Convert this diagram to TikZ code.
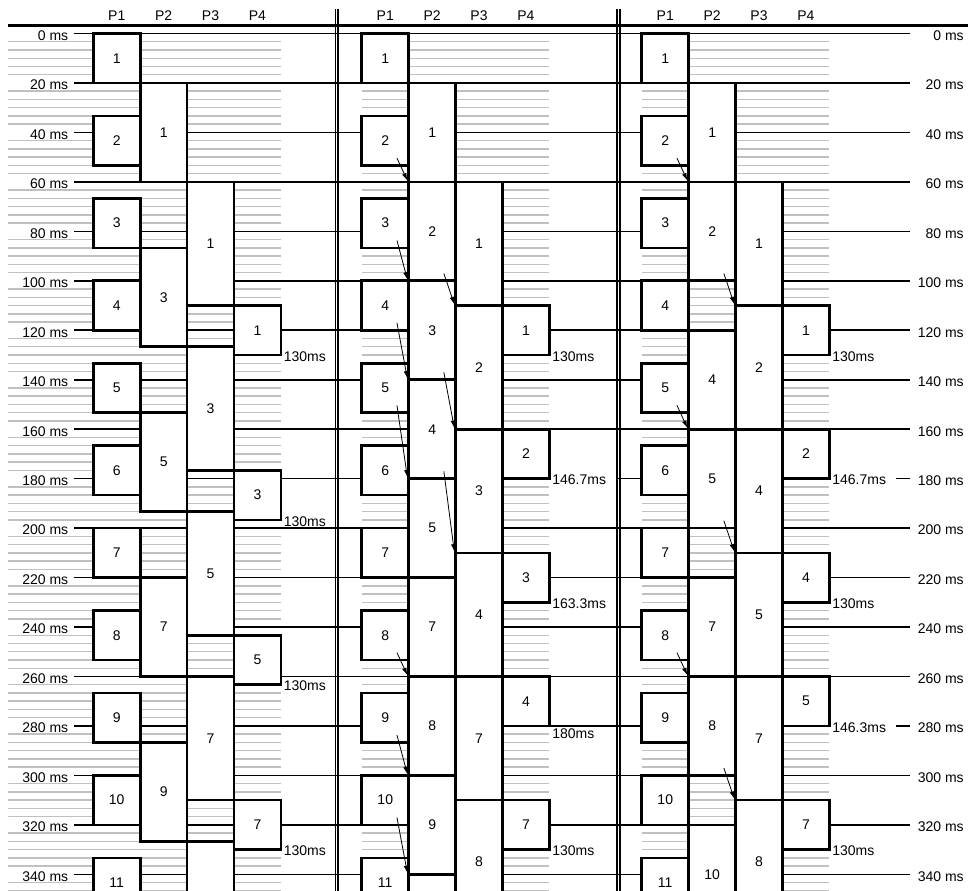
\documentclass[tikz,border=0pt]{standalone}
\usepackage{fontspec}
\setmainfont{Liberation Sans}
\usepackage{tikz}
\usetikzlibrary{arrows.meta}
\definecolor{gridgray}{RGB}{192,192,192}
\tikzset{
  stage/.style={draw,fill=white,line width=2pt,inner sep=0pt,
    minimum width=35.175pt,font=\fontsize{10.5}{12}\selectfont},
  latency/.style={fill=white,inner sep=1pt,text width=47pt,align=left,
    font=\fontsize{10.5}{12}\selectfont},
  mslabel/.style={font=\fontsize{10.5}{12}\selectfont,inner sep=0pt,anchor=east,yshift=-1.5pt},
  hdr/.style={font=\fontsize{10.5}{12}\selectfont,inner sep=0pt},
  grid line/.style={gridgray,line width=1.1pt},
  time line/.style={line width=1.2pt},
  sep line/.style={line width=1.2pt},
  flow/.style={-{Latex[length=5.5pt,width=3.5pt]},line width=0.6pt},
}
%% one stage box: name, left x, start ms, end ms, frame
\newcommand{\stagebox}[5]{\node[stage,minimum height={((#4)-(#3))*1.85475pt}]
  (#1) at ({#2+23.45},{((#3)+(#4))/2}) {#5};}

\begin{document}
\begin{tikzpicture}[x=0.75pt,y=-1.85475pt]
\def\cw{46.9}
\def\ax{93.3}
\def\bx{361.8}
\def\cx{641.8}
\useasboundingbox (0,-13.546) rectangle (968,346.34);
\clip (0,-13.546) rectangle (968,346.34);
%% grey sub-grid
\foreach \tm in {0,20,...,340}
  \foreach \j in {1,...,5}{
    \draw[grid line] (8,\tm+\j*10/3) -- (\ax+4*\cw,\tm+\j*10/3);
    \draw[grid line] (\bx,\tm+\j*10/3) -- (\bx+4*\cw,\tm+\j*10/3);
    \draw[grid line] (\cx,\tm+\j*10/3) -- (\cx+4*\cw,\tm+\j*10/3);
  }
%% 20 ms lines
\foreach \tm in {0,20,...,340}
  \draw[time line] (74,\tm) -- (910,\tm);
%% P1: same in all three
\foreach \p/\x in {a/\ax,b/\bx,c/\cx}
  \foreach \k in {1,...,11}
    {\stagebox{\p1f\k}{\x}{(\k-1)*100/3}{(\k-1)*100/3+20}{\k}}
%% Left: P2..P4
\stagebox{a2f1}{\ax+\cw}{20}{60}{1}
\stagebox{a2f3}{\ax+\cw}{86.667}{126.667}{3}
\stagebox{a2f5}{\ax+\cw}{153.333}{193.333}{5}
\stagebox{a2f7}{\ax+\cw}{220}{260}{7}
\stagebox{a2f9}{\ax+\cw}{286.667}{326.667}{9}
\stagebox{a3f1}{\ax+2*\cw}{60}{110}{1}
\stagebox{a3f3}{\ax+2*\cw}{126.667}{176.667}{3}
\stagebox{a3f5}{\ax+2*\cw}{193.333}{243.333}{5}
\stagebox{a3f7}{\ax+2*\cw}{260}{310}{7}
\stagebox{a3f9}{\ax+2*\cw}{326.667}{376.667}{}
\stagebox{a4f1}{\ax+3*\cw}{110}{130}{1}
\stagebox{a4f3}{\ax+3*\cw}{176.667}{196.667}{3}
\stagebox{a4f5}{\ax+3*\cw}{243.333}{263.333}{5}
\stagebox{a4f7}{\ax+3*\cw}{310}{330}{7}
%% Middle: P2..P4
\stagebox{b2f1}{\bx+\cw}{20}{60}{1}
\stagebox{b2f2}{\bx+\cw}{60}{100}{2}
\stagebox{b2f3}{\bx+\cw}{100}{140}{3}
\stagebox{b2f4}{\bx+\cw}{140}{180}{4}
\stagebox{b2f5}{\bx+\cw}{180}{220}{5}
\stagebox{b2f7}{\bx+\cw}{220}{260}{7}
\stagebox{b2f8}{\bx+\cw}{260}{300}{8}
\stagebox{b2f9}{\bx+\cw}{300}{340}{9}
\stagebox{b2f10}{\bx+\cw}{340}{380}{}
\stagebox{b3f1}{\bx+2*\cw}{60}{110}{1}
\stagebox{b3f2}{\bx+2*\cw}{110}{160}{2}
\stagebox{b3f3}{\bx+2*\cw}{160}{210}{3}
\stagebox{b3f4}{\bx+2*\cw}{210}{260}{4}
\stagebox{b3f7}{\bx+2*\cw}{260}{310}{7}
\stagebox{b3f8}{\bx+2*\cw}{310}{360}{8}
\stagebox{b4f1}{\bx+3*\cw}{110}{130}{1}
\stagebox{b4f2}{\bx+3*\cw}{160}{180}{2}
\stagebox{b4f3}{\bx+3*\cw}{210}{230}{3}
\stagebox{b4f4}{\bx+3*\cw}{260}{280}{4}
\stagebox{b4f7}{\bx+3*\cw}{310}{330}{7}
%% Right: P2..P4
\stagebox{c2f1}{\cx+\cw}{20}{60}{1}
\stagebox{c2f2}{\cx+\cw}{60}{100}{2}
\stagebox{c2f4}{\cx+\cw}{120}{160}{4}
\stagebox{c2f5}{\cx+\cw}{160}{200}{5}
\stagebox{c2f7}{\cx+\cw}{220}{260}{7}
\stagebox{c2f8}{\cx+\cw}{260}{300}{8}
\stagebox{c2f10}{\cx+\cw}{320}{360}{10}
\stagebox{c3f1}{\cx+2*\cw}{60}{110}{1}
\stagebox{c3f2}{\cx+2*\cw}{110}{160}{2}
\stagebox{c3f4}{\cx+2*\cw}{160}{210}{4}
\stagebox{c3f5}{\cx+2*\cw}{210}{260}{5}
\stagebox{c3f7}{\cx+2*\cw}{260}{310}{7}
\stagebox{c3f8}{\cx+2*\cw}{310}{360}{8}
\stagebox{c4f1}{\cx+3*\cw}{110}{130}{1}
\stagebox{c4f2}{\cx+3*\cw}{160}{180}{2}
\stagebox{c4f4}{\cx+3*\cw}{210}{230}{4}
\stagebox{c4f5}{\cx+3*\cw}{260}{280}{5}
\stagebox{c4f7}{\cx+3*\cw}{310}{330}{7}
%% latencies
\node[latency,anchor=west] (a4f1l) at (a4f1.south east) {130ms};
\node[latency,anchor=west] (a4f3l) at (a4f3.south east) {130ms};
\node[latency,anchor=west] (a4f5l) at (a4f5.south east) {130ms};
\node[latency,anchor=west] (a4f7l) at (a4f7.south east) {130ms};
\node[latency,anchor=west] (b4f1l) at (b4f1.south east) {130ms};
\node[latency,anchor=west] (b4f2l) at (b4f2.south east) {146.7ms};
\node[latency,anchor=west] (b4f3l) at (b4f3.south east) {163.3ms};
\node[latency,anchor=north west] (b4f4l) at (b4f4.south east) {180ms};
\node[latency,anchor=west] (b4f7l) at (b4f7.south east) {130ms};
\node[latency,anchor=west] (c4f1l) at (c4f1.south east) {130ms};
\node[latency,anchor=west] (c4f2l) at (c4f2.south east) {146.7ms};
\node[latency,anchor=west] (c4f4l) at (c4f4.south east) {130ms};
\node[latency,anchor=west] (c4f5l) at (c4f5.south east) {146.3ms};
\node[latency,anchor=west] (c4f7l) at (c4f7.south east) {130ms};
%% waiting frames
\draw[flow] ([shift={(36.5,-3.5)}]b1f2.south west) -- (b2f2.north west);
\draw[flow] ([shift={(36.5,-3.5)}]b1f3.south west) -- (b2f3.north west);
\draw[flow] ([shift={(36.5,-3.5)}]b1f4.south west) -- (b2f4.north west);
\draw[flow] ([shift={(36.5,-3.5)}]b1f5.south west) -- (b2f5.north west);
\draw[flow] ([shift={(36.5,-3.5)}]b1f8.south west) -- (b2f8.north west);
\draw[flow] ([shift={(36.5,-3.5)}]b1f9.south west) -- (b2f9.north west);
\draw[flow] ([shift={(36.5,-3.5)}]b1f10.south west) -- (b2f10.north west);
\draw[flow] ([shift={(36.5,-3.5)}]b2f2.south west) -- (b3f2.north west);
\draw[flow] ([shift={(36.5,-3.5)}]b2f3.south west) -- (b3f3.north west);
\draw[flow] ([shift={(36.5,-3.5)}]b2f4.south west) -- (b3f4.north west);
\draw[flow] ([shift={(36.5,-3.5)}]c1f2.south west) -- (c2f2.north west);
\draw[flow] ([shift={(36.5,-3.5)}]c1f5.south west) -- (c2f5.north west);
\draw[flow] ([shift={(36.5,-3.5)}]c1f8.south west) -- (c2f8.north west);
\draw[flow] ([shift={(36.5,-3.5)}]c2f2.south west) -- (c3f2.north west);
\draw[flow] ([shift={(36.5,-3.5)}]c2f5.south west) -- (c3f5.north west);
\draw[flow] ([shift={(36.5,-3.5)}]c2f8.south west) -- (c3f8.north west);
%% separators and header
\draw[sep line] (335.3,-10) -- (335.3,350);
\draw[sep line] (338.2,-10) -- (338.2,350);
\draw[sep line] (617,-10) -- (617,350);
\draw[sep line] (619.9,-10) -- (619.9,350);
\draw[line width=2.5pt] (8,-3.15) -- (968,-3.15);
\foreach \p/\x in {a/\ax,b/\bx,c/\cx}
  \foreach \q in {1,...,4}
    \node[hdr] (\p h\q) at ({\x+(\q-0.5)*\cw},-7.1) {P\q};
%% ms labels
\foreach \tm in {0,20,...,340}{
  \node[mslabel] (l\tm) at (68.5,\tm) {\tm\ ms};
  \node[mslabel] (r\tm) at (964,\tm) {\tm\ ms};
}
\end{tikzpicture}
\end{document}
